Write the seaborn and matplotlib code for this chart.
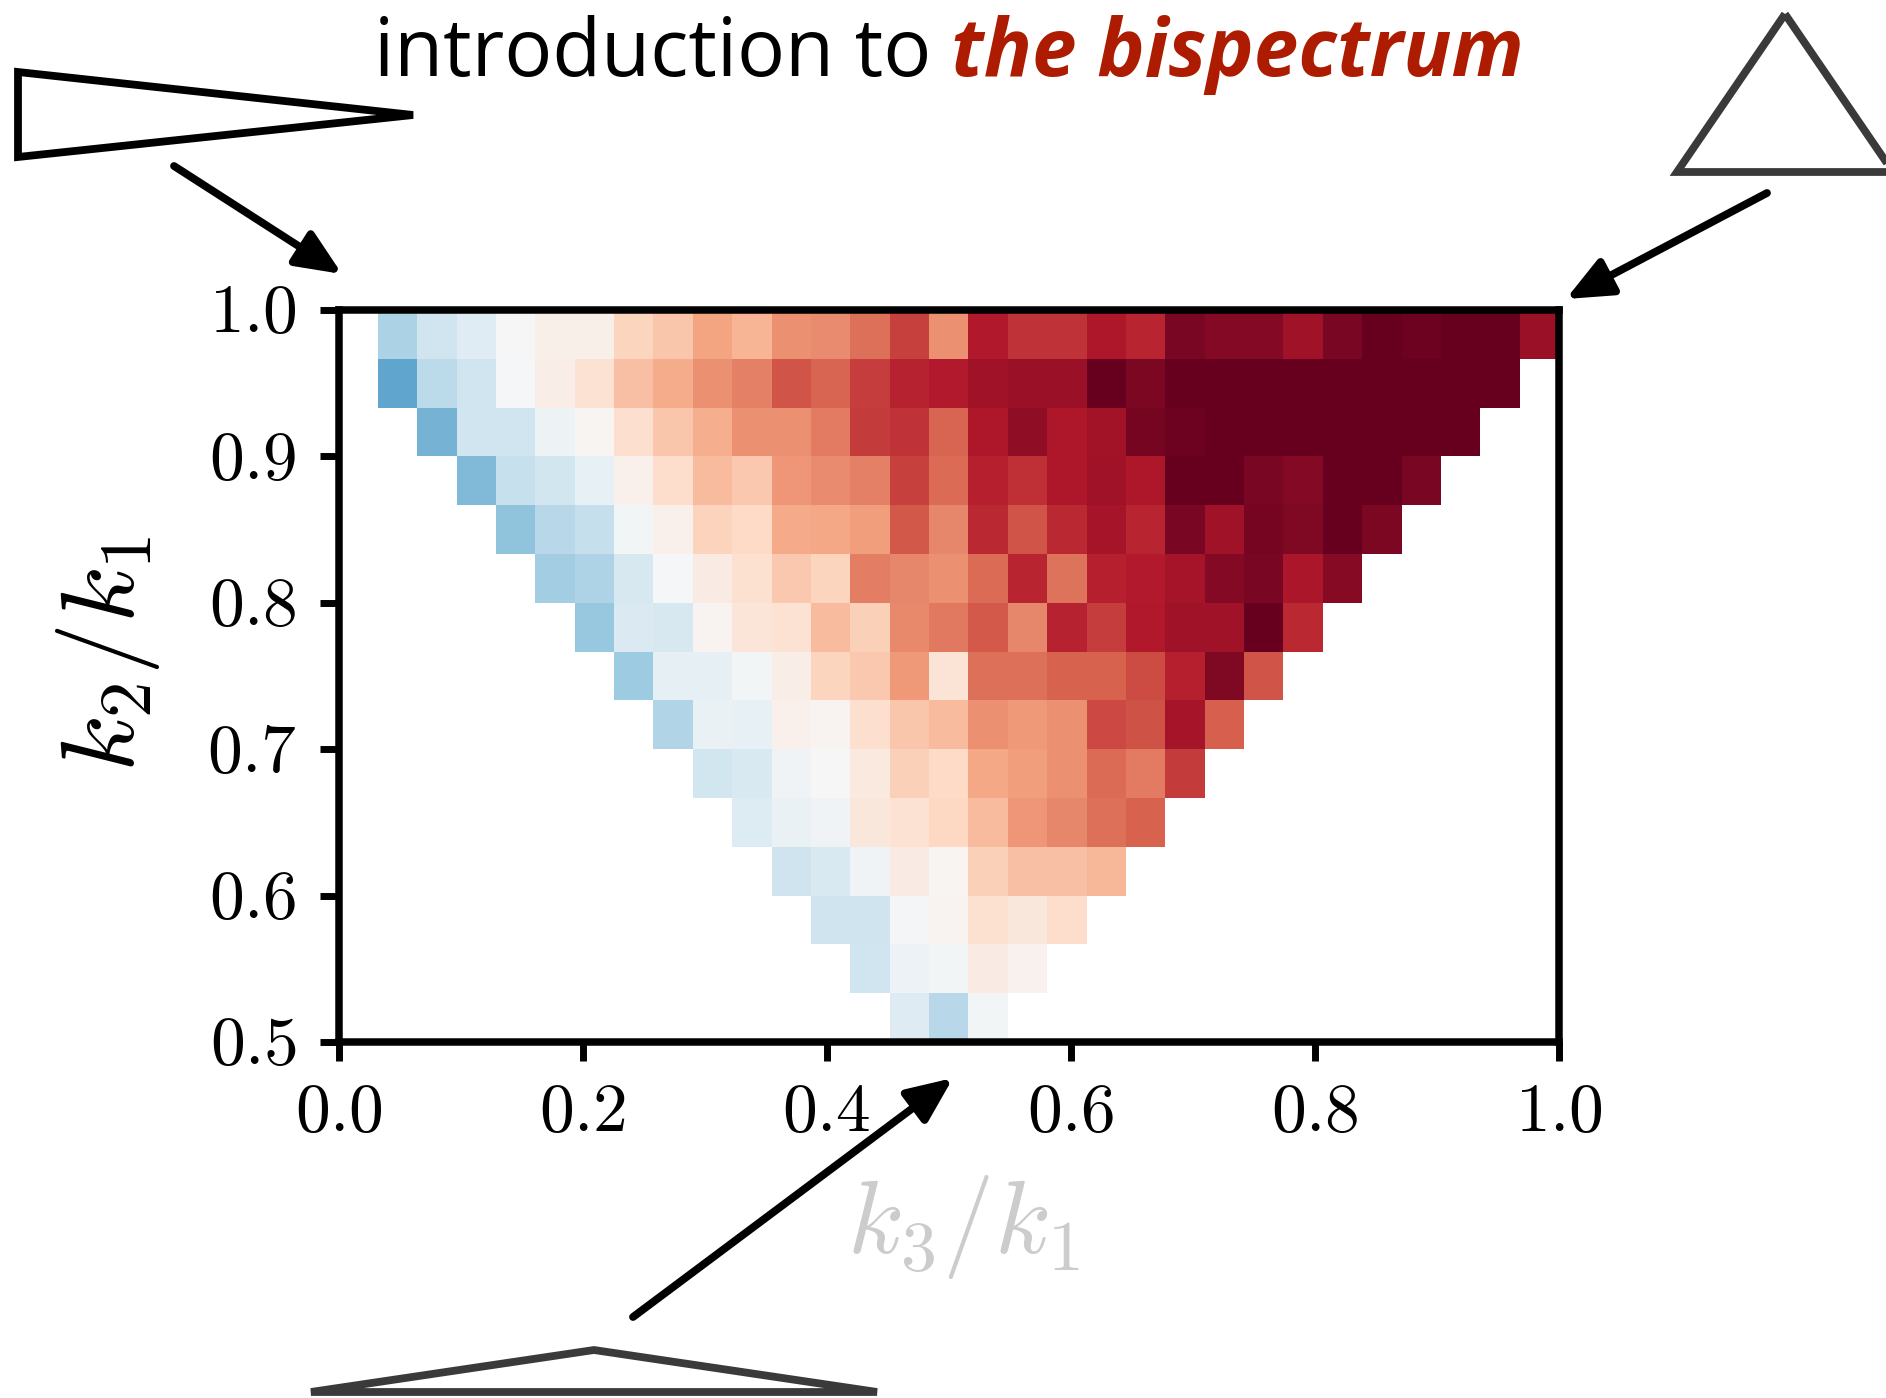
import numpy as np
import pandas as pd
import matplotlib
matplotlib.use('Agg')
import matplotlib.pyplot as plt
from matplotlib.patches import Polygon
from matplotlib.transforms import ScaledTranslation
import seaborn as sns

# Bispectrum cells, top row first. Each row starts at its own column of the 31 column grid
row_start = [1, 1, 2, 3, 4, 5, 6, 7, 8, 9, 10, 11, 12, 13, 14]
row_0 = [-.32, -.2, -.12, 0, .06, .06, .22, .28, .4, .34, .46, .47, .55, .68, .46, .8, .72, .72, .81, .76, .95, .92, .92, .85, .95, 1, .98, 1, 1, .86]
row_1 = [-.53, -.27, -.2, -.01, .07, .15, .3, .37, .46, .5, .63, .58, .69, .77, .79, .85, .86, .86, 1, .94, 1, 1, 1, 1, 1, 1, 1, 1, 1]
row_2 = [-.47, -.2, -.2, -.05, .02, .17, .28, .36, .46, .46, .52, .7, .72, .58, .81, .89, .81, .84, .96, .98, 1, 1, 1, 1, 1, 1, 1]
row_3 = [-.44, -.23, -.19, -.08, .05, .18, .32, .27, .44, .47, .5, .68, .57, .78, .73, .81, .85, .81, 1, 1, .95, .92, 1, 1, .95]
row_4 = [-.4, -.28, -.24, -.03, .05, .23, .2, .38, .39, .42, .62, .49, .75, .63, .75, .83, .76, .95, .85, .96, .93, 1, .94]
row_5 = [-.35, -.31, -.17, -.01, .08, .16, .27, .22, .51, .49, .46, .57, .76, .54, .78, .79, .83, .92, .95, .82, .91]
row_6 = [-.38, -.15, -.17, .03, .13, .15, .32, .24, .48, .53, .61, .49, .77, .69, .8, .85, .85, 1, .75]
row_7 = [-.36, -.09, -.09, -.03, .07, .22, .27, .43, .14, .55, .55, .59, .59, .65, .78, .93, .63]
row_8 = [-.3, -.07, -.08, .05, .03, .17, .28, .32, .46, .43, .46, .66, .64, .83, .6]
row_9 = [-.19, -.16, -.04, 0, .1, .24, .2, .39, .42, .46, .57, .52, .7]
row_10 = [-.14, -.07, -.04, .11, .15, .21, .32, .44, .49, .55, .59]
row_11 = [-.21, -.16, -.04, .08, .02, .24, .3, .3, .33]
row_12 = [-.21, -.21, -.02, .03, .16, .11, .18]
row_13 = [-.2, -.06, -.03, .08, .04]
row_14 = [-.13, -.28, -.03]
rows = [row_0, row_1, row_2, row_3, row_4, row_5, row_6, row_7, row_8, row_9, row_10, row_11, row_12, row_13, row_14]

x_ticks = [0.0, 0.2, 0.4, 0.6, 0.8, 1.0]
y_ticks = [0.5, 0.6, 0.7, 0.8, 0.9, 1.0]

# Triangle sketches and arrows, in pixels of the figure
tri_squeezed = [(18, 72), (413, 115), (18, 157)]
tri_equilateral = [(1785, 14), (1677, 172), (1893, 172)]
tri_flattened = [(594, 1350), (311, 1392), (877, 1392)]
arrow_squeezed = [(174, 166), (342, 274)]
arrow_equilateral = [(1767, 193), (1566, 299)]
arrow_flattened = [(633, 1317), (953, 1078)]

W, H = 1886, 1398


def frac(p):
    return p[0] / W, 1 - p[1] / H


sns.set_theme(style='white')
plt.rcParams['mathtext.fontset'] = 'cm'
plt.rcParams['font.family'] = ['Open Sans', 'DejaVu Sans']

grid = np.full((len(rows), 31), np.nan)
for i, vals in enumerate(rows):
    grid[i, row_start[i]:row_start[i] + len(vals)] = vals
df = pd.DataFrame(grid)

fig = plt.figure(figsize=(W / 100, H / 100), dpi=100, facecolor='white')
ax = fig.add_axes([338.5 / W, 1 - 1042 / H, (1559 - 338.5) / W, (1042 - 310) / H])
sns.heatmap(df, ax=ax, cmap='RdBu_r', vmin=-1, vmax=1, cbar=False, xticklabels=False, yticklabels=False)

for side in ax.spines:
    ax.spines[side].set_visible(True)
    ax.spines[side].set_color('black')
    ax.spines[side].set_linewidth(5.4)

ax.set_xticks([t * 31 for t in x_ticks])
ax.set_xticklabels(['$%.1f$' % t for t in x_ticks], rotation=0)
ax.set_yticks([(1 - t) * 30 for t in y_ticks])
ax.set_yticklabels(['$%.1f$' % t for t in y_ticks], rotation=0)
ax.tick_params(axis='both', which='major', left=True, bottom=True, direction='out', length=14, width=5,
               color='black', labelcolor='black', labelsize=50)
ax.tick_params(axis='x', pad=12)
ax.tick_params(axis='y', pad=16)

# y tick labels sit a little higher than matplotlib puts them
for lab in ax.get_yticklabels():
    lab.set_transform(lab.get_transform() + ScaledTranslation(0, 3 / 72, fig.dpi_scale_trans))

fig.text(964 / W, 1 - 1227 / H, '$k_3/k_1$', color='#cccccc', fontsize=74, ha='center', va='center')
fig.text(108 / W, 1 - 654 / H, '$k_2/k_1$', color='black', fontsize=75, ha='center', va='center', rotation=90)

# title in two parts, the second one is bold italic
fig.text(374 / W, 1 - 76 / H, 'introduction to', color='black', fontsize=57.4, ha='left', va='baseline')
fig.text(951 / W, 1 - 76 / H, 'the bispectrum', color='#ad1c00', fontsize=57.5, ha='left', va='baseline',
         fontweight='bold', fontstyle='italic')

for pts, col in [(tri_squeezed, 'black'), (tri_equilateral, '#3a3a3a'), (tri_flattened, '#3a3a3a')]:
    fig.add_artist(Polygon([frac(p) for p in pts], closed=True, fill=False, edgecolor=col, linewidth=5.6,
                           joinstyle='miter', transform=fig.transFigure))

for start, tip in [arrow_squeezed, arrow_equilateral, arrow_flattened]:
    ax.annotate('', xy=frac(tip), xytext=frac(start), xycoords='figure fraction', textcoords='figure fraction',
                annotation_clip=False, zorder=10,
                arrowprops=dict(arrowstyle='-|>,head_length=0.55,head_width=0.24', mutation_scale=50, color='black',
                                lw=5.6, shrinkA=0, shrinkB=0))

fig.savefig('out.png', dpi=100, facecolor='white')
